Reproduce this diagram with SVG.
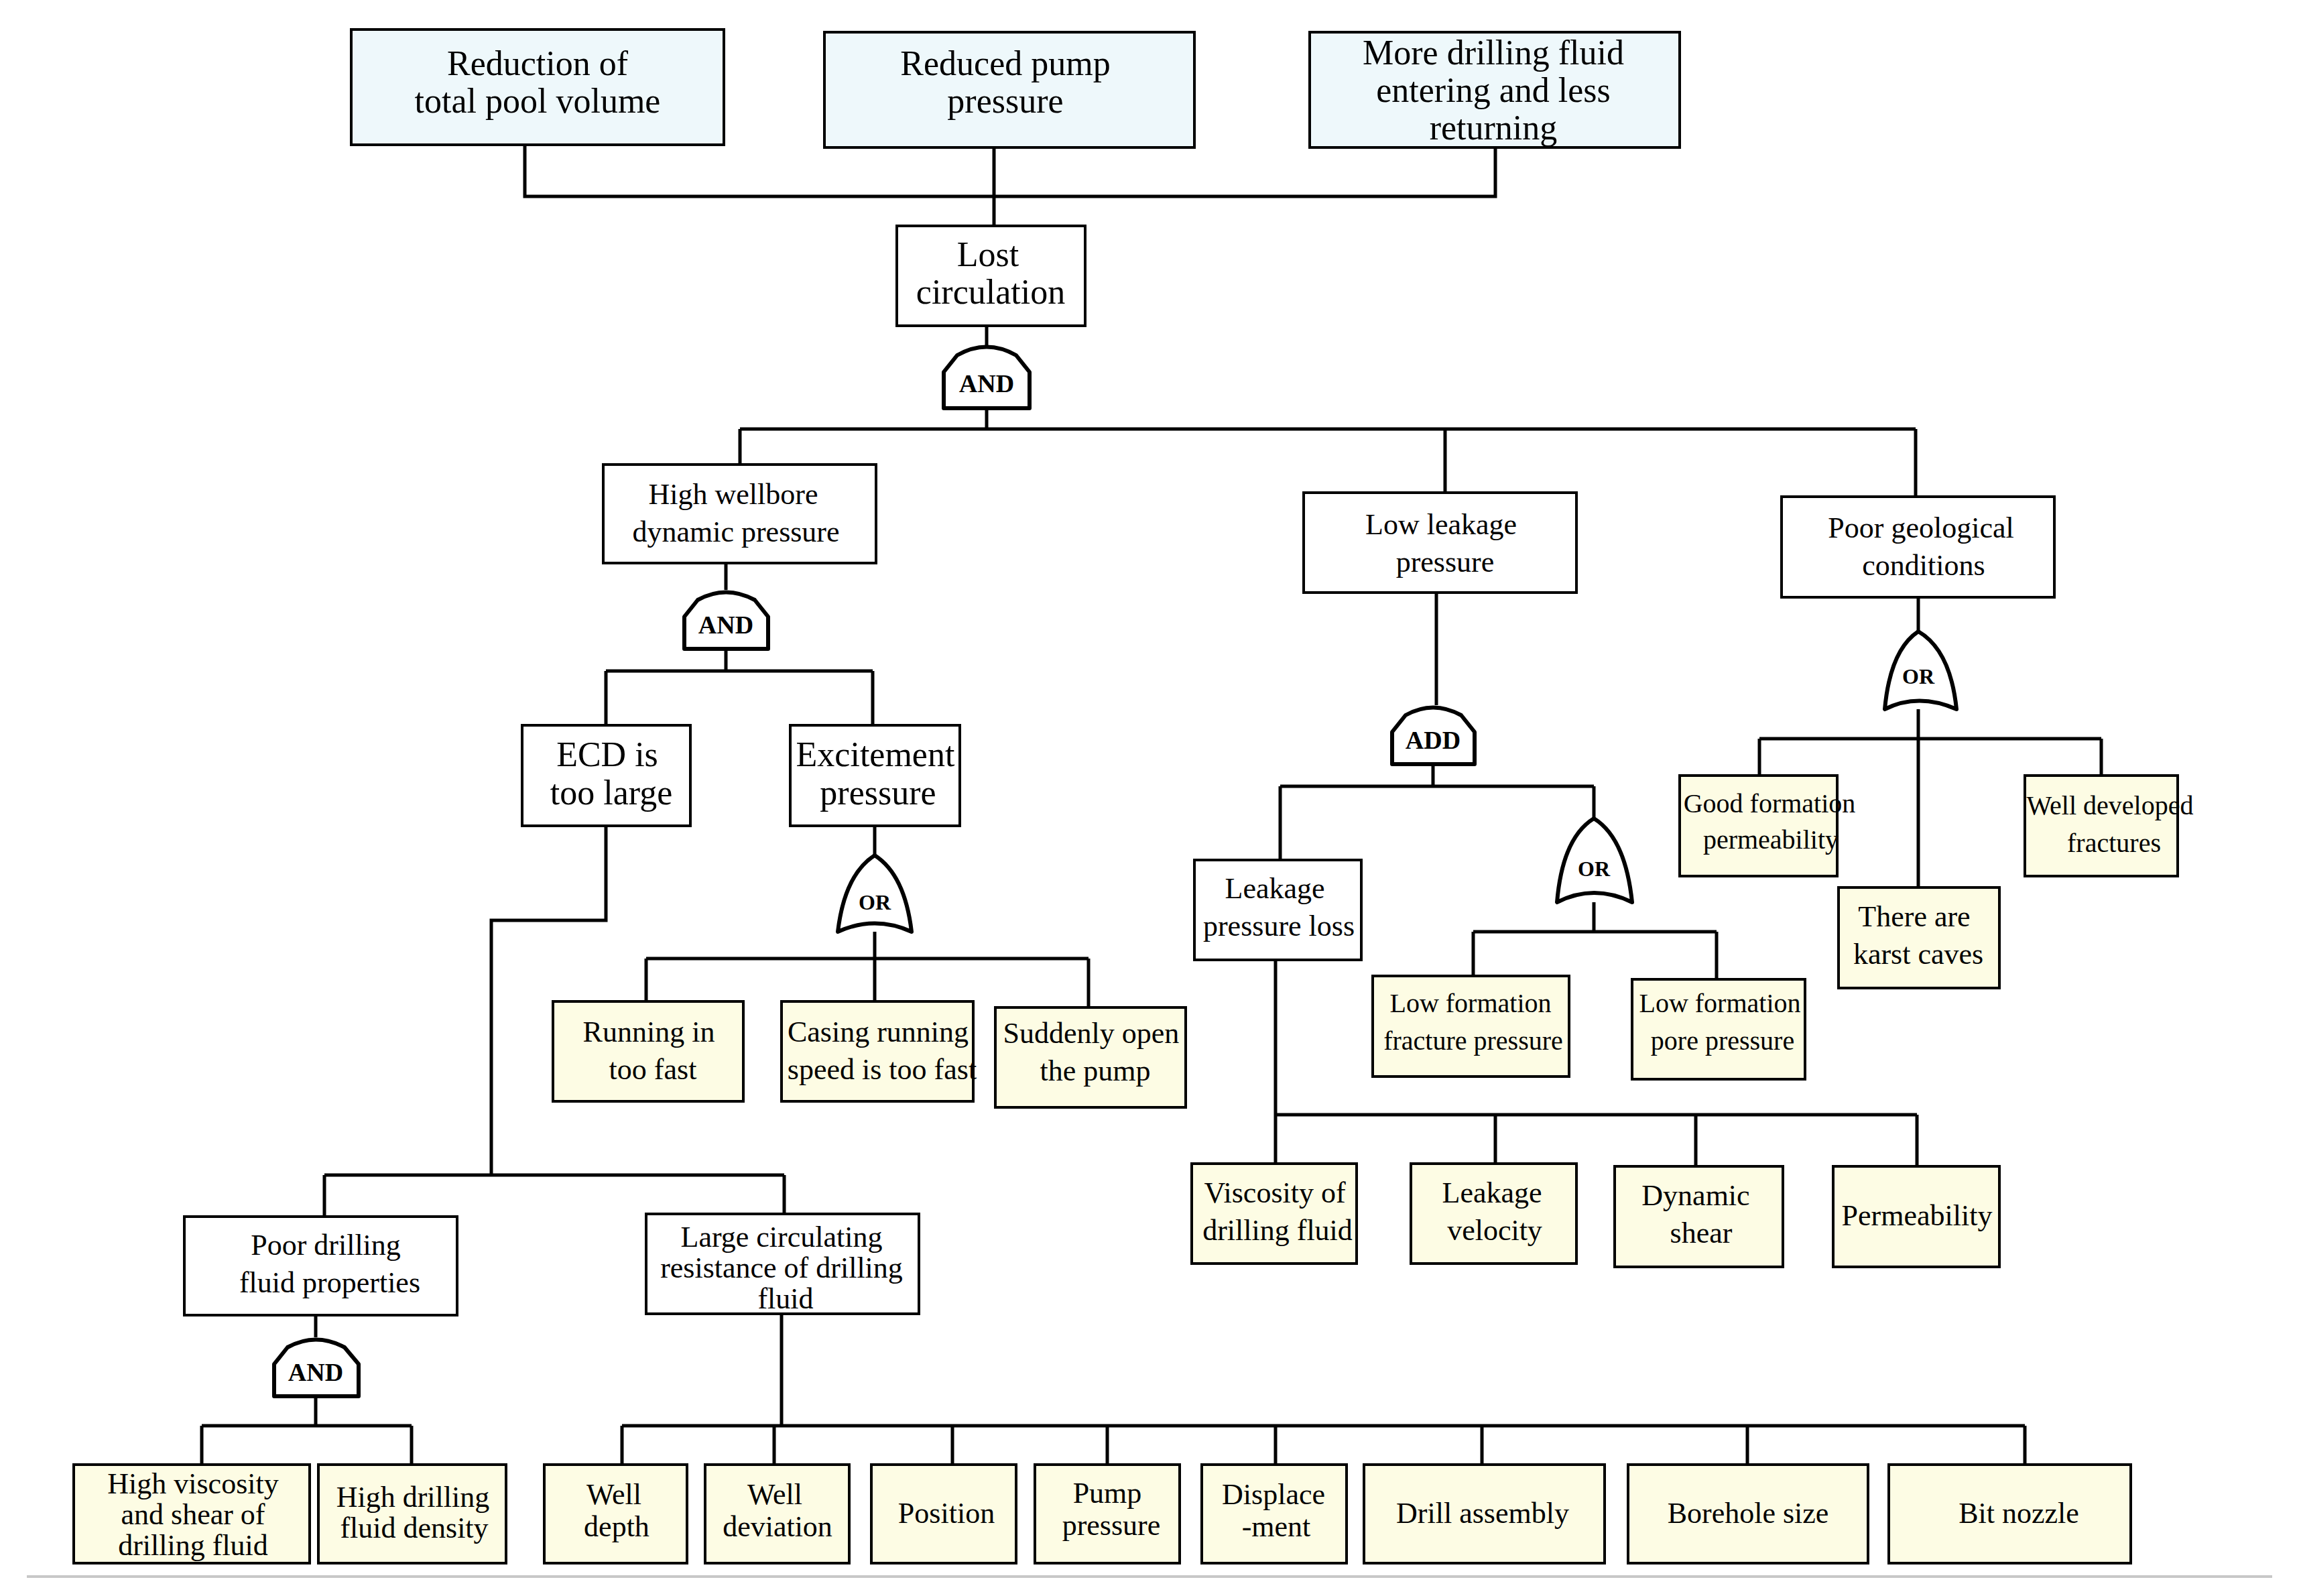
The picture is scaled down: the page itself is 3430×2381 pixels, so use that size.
<svg xmlns="http://www.w3.org/2000/svg" width="3430" height="2381" viewBox="0 0 3430 2381">
<style>
.b{fill:#fff;stroke:#000;stroke-width:4}
.t{fill:#eef8fb;stroke:#000;stroke-width:4}
.y{fill:#fdfce4;stroke:#000;stroke-width:4}
.g{fill:#fff;stroke:#000;stroke-width:6;stroke-linejoin:round}
text{font-family:"Liberation Serif",serif;font-size:44px;text-anchor:middle;fill:#000}
.L{font-size:52px}
.gt{font-size:38px;font-weight:bold}
#c path{fill:none;stroke:#000;stroke-width:5}
</style>
<rect width="3430" height="2381" fill="#fff"/>
<g id="c">
<path d="M783 216V293H2231V220M1483 220V337M1472 486V515M1472 609V640M1104 640H2858M1104 640V693M2156 640V735M2858 640V741"/>
<path d="M1083 840V880M1083 968V1001M904 1001H1302M904 1001V1082M1302 1001V1082M1305 1232V1276M1305 1390V1430M964 1430H1624M964 1430V1494M1305 1430V1494M1624 1430V1503"/>
<path d="M904 1232V1373H733V1753M484 1753H1170M484 1753V1815M1170 1753V1811M471 1962V1995M471 2083V2127M301 2127H614M301 2127V2185M614 2127V2185"/>
<path d="M1166 1960V2127M928 2127H3021M928 2127V2185M1155 2127V2185M1421 2127V2185M1652 2127V2185M1903 2127V2185M2211 2127V2185M2607 2127V2185M3021 2127V2185"/>
<path d="M2143 884V1052M2138 1140V1173M1910 1173H2378M1910 1173V1283M2378 1173V1221M2378 1346V1390M2198 1390H2561M2198 1390V1456M2561 1390V1461"/>
<path d="M1903 1432V1736M1903 1663H2860M2231 1663V1736M2530 1663V1740M2860 1663V1740"/>
<path d="M2862 891V942M2862 1058V1324M2625 1102H3135M2625 1102V1157M3135 1102V1157"/>
</g>
<line x1="40" y1="2352" x2="3390" y2="2352" stroke="#c8c8c8" stroke-width="4"/>
<g id="n1"><rect class="t" x="524" y="44" width="556" height="172"/><text class="L" x="802" y="112">Reduction of</text><text class="L" x="802" y="168">total pool volume</text></g>
<g id="n2"><rect class="t" x="1230" y="48" width="552" height="172"/><text class="L" x="1500" y="112">Reduced pump</text><text class="L" x="1500" y="168">pressure</text></g>
<g id="n3"><rect class="t" x="1954" y="48" width="552" height="172"/><text class="L" x="2228" y="96">More drilling fluid</text><text class="L" x="2228" y="152">entering and less</text><text class="L" x="2228" y="208">returning</text></g>
<g id="n4"><rect class="b" x="1338" y="337" width="281" height="149"/><text class="L" x="1474" y="397">Lost</text><text class="L" x="1478" y="453">circulation</text></g>
<g id="g1"><path class="g" d="M1408 609V555L1428 530Q1472 505 1516 530L1536 555V609Z"/><text class="gt" x="1472" y="585">AND</text></g>
<g id="n5"><rect class="b" x="900" y="693" width="407" height="147"/><text x="1094" y="752">High wellbore</text><text x="1098" y="808">dynamic pressure</text></g>
<g id="n6"><rect class="b" x="1945" y="735" width="407" height="149"/><text x="2150" y="797">Low leakage</text><text x="2156" y="853">pressure</text></g>
<g id="n7"><rect class="b" x="2658" y="741" width="407" height="150"/><text x="2866" y="802">Poor geological</text><text x="2870" y="858">conditions</text></g>
<g id="g2"><path class="g" d="M1021 968V920L1041 895Q1083 872 1126 895L1146 920V968Z"/><text class="gt" x="1083" y="945">AND</text></g>
<g id="n8"><rect class="b" x="779" y="1082" width="251" height="150"/><text class="L" x="906" y="1143">ECD is</text><text class="L" x="912" y="1200">too large</text></g>
<g id="n9"><rect class="b" x="1179" y="1082" width="253" height="150"/><text class="L" x="1306" y="1143">Excitement</text><text class="L" x="1310" y="1200">pressure</text></g>
<g id="g3"><path class="g" d="M1305 1276Q1350 1305 1360 1390Q1305 1365 1250 1390Q1260 1305 1305 1276Z"/><text class="gt" x="1305" y="1357" style="font-size:32px">OR</text></g>
<g id="n10"><rect class="y" x="825" y="1494" width="284" height="149"/><text x="968" y="1554">Running in</text><text x="974" y="1610">too fast</text></g>
<g id="n11"><rect class="y" x="1166" y="1494" width="286" height="149"/><text x="1310" y="1554">Casing running</text><text x="1316" y="1610">speed is too fast</text></g>
<g id="n12"><rect class="y" x="1485" y="1503" width="284" height="149"/><text x="1628" y="1556">Suddenly open</text><text x="1634" y="1612">the pump</text></g>
<g id="n13"><rect class="b" x="275" y="1815" width="407" height="147"/><text x="486" y="1872">Poor drilling</text><text x="492" y="1928">fluid properties</text></g>
<g id="n14"><rect class="b" x="964" y="1811" width="407" height="149"/><text x="1166" y="1860">Large circulating</text><text x="1166" y="1906">resistance of drilling</text><text x="1172" y="1952">fluid</text></g>
<g id="g4"><path class="g" d="M409 2083V2035L429 2010Q471 1987 514 2010L535 2035V2083Z"/><text class="gt" x="471" y="2060">AND</text></g>
<g id="n15"><rect class="y" x="110" y="2185" width="352" height="147"/><text x="288" y="2228">High viscosity</text><text x="288" y="2274">and shear of</text><text x="288" y="2320">drilling fluid</text></g>
<g id="n16"><rect class="y" x="475" y="2185" width="280" height="147"/><text x="616" y="2248">High drilling</text><text x="618" y="2294">fluid density</text></g>
<g id="n17"><rect class="y" x="812" y="2185" width="213" height="147"/><text x="916" y="2244">Well</text><text x="920" y="2292">depth</text></g>
<g id="n18"><rect class="y" x="1052" y="2185" width="215" height="147"/><text x="1156" y="2244">Well</text><text x="1160" y="2292">deviation</text></g>
<g id="n19"><rect class="y" x="1300" y="2185" width="216" height="147"/><text x="1412" y="2272">Position</text></g>
<g id="n20"><rect class="y" x="1544" y="2185" width="216" height="147"/><text x="1652" y="2242">Pump</text><text x="1658" y="2290">pressure</text></g>
<g id="n21"><rect class="y" x="1793" y="2185" width="216" height="147"/><text x="1900" y="2244">Displace</text><text x="1904" y="2292">-ment</text></g>
<g id="n22"><rect class="y" x="2035" y="2185" width="359" height="147"/><text x="2212" y="2272">Drill assembly</text></g>
<g id="n23"><rect class="y" x="2429" y="2185" width="358" height="147"/><text x="2608" y="2272">Borehole size</text></g>
<g id="n24"><rect class="y" x="2818" y="2185" width="361" height="147"/><text x="3012" y="2272">Bit nozzle</text></g>
<g id="g5"><path class="g" d="M2077 1140V1092L2097 1067Q2138 1044 2180 1067L2200 1092V1140Z"/><text class="gt" x="2138" y="1117">ADD</text></g>
<g id="n25"><rect class="b" x="1782" y="1283" width="249" height="149"/><text x="1902" y="1340">Leakage</text><text x="1908" y="1396">pressure loss</text></g>
<g id="g6"><path class="g" d="M2378 1221Q2425 1250 2435 1346Q2378 1318 2323 1346Q2331 1250 2378 1221Z"/><text class="gt" x="2378" y="1307" style="font-size:32px">OR</text></g>
<g id="n26"><rect class="y" x="2048" y="1456" width="293" height="150"/><text x="2194" y="1510" style="font-size:40px">Low formation</text><text x="2198" y="1566" style="font-size:40px">fracture pressure</text></g>
<g id="n27"><rect class="y" x="2435" y="1461" width="258" height="149"/><text x="2566" y="1510" style="font-size:40px">Low formation</text><text x="2570" y="1566" style="font-size:40px">pore pressure</text></g>
<g id="n28"><rect class="y" x="1778" y="1736" width="246" height="149"/><text x="1902" y="1794">Viscosity of</text><text x="1906" y="1850">drilling fluid</text></g>
<g id="n29"><rect class="y" x="2105" y="1736" width="247" height="149"/><text x="2226" y="1794">Leakage</text><text x="2230" y="1850">velocity</text></g>
<g id="n30"><rect class="y" x="2409" y="1740" width="251" height="150"/><text x="2530" y="1798">Dynamic</text><text x="2538" y="1854">shear</text></g>
<g id="n31"><rect class="y" x="2735" y="1740" width="248" height="150"/><text x="2860" y="1828">Permeability</text></g>
<g id="g7"><path class="g" d="M2862 942Q2910 970 2919 1058Q2862 1033 2812 1058Q2820 970 2862 942Z"/><text class="gt" x="2862" y="1020" style="font-size:32px">OR</text></g>
<g id="n32"><rect class="y" x="2506" y="1157" width="235" height="150"/><text x="2640" y="1212" style="font-size:40px">Good formation</text><text x="2642" y="1266" style="font-size:40px">permeability</text></g>
<g id="n33"><rect class="y" x="2743" y="1324" width="240" height="150"/><text x="2856" y="1382">There are</text><text x="2862" y="1438">karst caves</text></g>
<g id="n34"><rect class="y" x="3021" y="1157" width="228" height="150"/><text x="3148" y="1215" style="font-size:40px">Well developed</text><text x="3154" y="1271" style="font-size:40px">fractures</text></g>
</svg>
